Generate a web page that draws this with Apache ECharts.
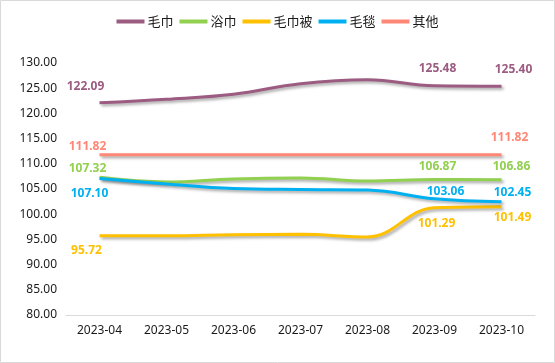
<!DOCTYPE html>
<html><head><meta charset="utf-8">
<script src="https://cdn.jsdelivr.net/npm/echarts@6/dist/echarts.min.js"></script>
<style>html,body{margin:0;padding:0;background:#fff}#c{width:555px;height:363px}</style>
</head><body><div id="c"></div>
<script>
const categories = ['2023-04','2023-05','2023-06','2023-07','2023-08','2023-09','2023-10'];
const maojin   = [122.09, 122.8, 123.8, 125.9, 126.7, 125.48, 125.40];
const yujin    = [107.32, 106.4, 107.0, 107.2, 106.6, 106.87, 106.86];
const maojinbei= [95.72, 95.7, 95.9, 96.0, 95.5, 101.29, 101.49];
const maotan   = [107.10, 106.0, 105.1, 104.9, 104.8, 103.06, 102.45];
const qita     = [111.82, 111.82, 111.82, 111.82, 111.82, 111.82, 111.82];
const yTicks = [80, 85, 90, 95, 100, 105, 110, 115, 120, 125, 130];

// style: label offsets (px) for labeled points
const seriesDefs = [
  {name:'毛巾', data:maojin, color:'#9C5B80', labels:{0:[-14,-16],5:[3,-17],6:[12,-17]}},
  {name:'浴巾', data:yujin, color:'#92D050', labels:{0:[-12,-9],5:[3,-13],6:[10,-13]}},
  {name:'毛巾被', data:maojinbei, color:'#FFC000', labels:{0:[-13,15],5:[2,16],6:[11,11]}},
  {name:'毛毯', data:maotan, color:'#00B0F0', labels:{0:[-10,15],5:[11,-7],6:[11,-9]}},
  {name:'其他', data:qita, color:'#FF8776', labels:{0:[-12,-8],6:[8,-17]}}
];
const font = '"Noto Sans", "Noto Sans CJK SC", sans-serif';
const chart = echarts.init(document.getElementById('c'));
chart.setOption({
  animation:false,
  textStyle:{fontFamily:font},
  graphic:[{type:'rect',shape:{x:0.5,y:0.5,width:554,height:362},style:{fill:'none',stroke:'#d9d9d9',lineWidth:1},silent:true}],
  legend:{top:10,left:'center',itemWidth:28,itemHeight:4,itemGap:6,icon:'rect',
    textStyle:{fontSize:13,color:'#1a1a1a',fontFamily:'"Noto Sans CJK SC", sans-serif',padding:[0,0,0,-2]},
    data:seriesDefs.map(s=>s.name)},
  grid:{left:66,right:20,top:63,bottom:48},
  xAxis:{type:'category',data:categories,boundaryGap:true,
    axisLine:{lineStyle:{color:'#d9d9d9',width:1}},axisTick:{show:false},
    axisLabel:{color:'#1a1a1a',fontSize:12,margin:10}},
  yAxis:{type:'value',min:80,max:130,interval:5,
    axisLine:{show:false},axisTick:{show:false},splitLine:{show:false},
    axisLabel:{color:'#1a1a1a',fontSize:12,margin:9,formatter:v=>v.toFixed(2)}},
  series:seriesDefs.map(s=>({
    name:s.name,type:'line',smooth:0.4,symbol:'circle',symbolSize:0.01,showSymbol:true,
    itemStyle:{color:s.color},
    lineStyle:{color:s.color,width:3,shadowColor:'rgba(0,0,0,0.35)',shadowBlur:3,shadowOffsetX:2,shadowOffsetY:2},
    data:s.data.map((v,i)=>{
      const o=s.labels[i];
      return o?{value:v,label:{show:true,position:'inside',offset:o,color:s.color,fontWeight:'bold',fontSize:12,formatter:p=>p.value.toFixed(2)}}:{value:v,label:{show:false}};
    })
  }))
});
</script></body></html>
